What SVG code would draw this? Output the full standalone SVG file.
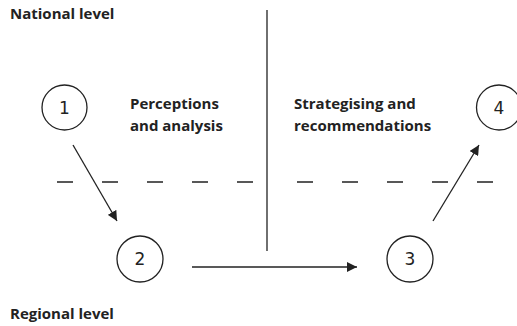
<svg xmlns="http://www.w3.org/2000/svg" width="517" height="326" viewBox="0 0 517 326">
<style>
.lbl{font-family:"Open Sans","Noto Sans",sans-serif;font-weight:bold;font-size:15px;fill:#222}
.num{font-family:"DejaVu Sans",sans-serif;font-size:17px;fill:#222;text-anchor:middle}
.c{fill:#fff;stroke:#222;stroke-width:1.3}
.ln{stroke:#222;stroke-width:1.3;fill:none}
.dash{stroke:#222;stroke-width:1.3;stroke-dasharray:16 29;fill:none}
</style>
<defs>
<marker id="ah" viewBox="0 0 10 10" refX="10" refY="5" markerWidth="10" markerHeight="10" markerUnits="userSpaceOnUse" orient="auto">
<path d="M0,0 L10,5 L0,10 z" fill="#222"/>
</marker>
</defs>
<rect width="517" height="326" fill="#fff"/>
<g id="labels">
<text class="lbl" x="10" y="19">National level</text>
<text class="lbl" x="10" y="319">Regional level</text>
<text class="lbl" x="130" y="109">Perceptions</text>
<text class="lbl" x="130" y="131">and analysis</text>
<text class="lbl" x="294" y="109">Strategising and</text>
<text class="lbl" x="294" y="131">recommendations</text>
</g>
<g id="dividers">
<line class="ln" x1="267" y1="10" x2="267" y2="251"/>
<line class="dash" x1="57" y1="182" x2="253" y2="182"/>
<line class="dash" x1="297" y1="182" x2="494" y2="182"/>
</g>
<g id="node1"><circle class="c" cx="64.5" cy="107.5" r="22.5"/><text class="num" x="64.5" y="113.5">1</text></g>
<g id="node2"><circle class="c" cx="140" cy="259" r="23"/><text class="num" x="140" y="265">2</text></g>
<g id="node3"><circle class="c" cx="410" cy="259" r="23"/><text class="num" x="410" y="265">3</text></g>
<g id="node4"><circle class="c" cx="499" cy="107.5" r="22.5"/><text class="num" x="499" y="113.5">4</text></g>
<g id="connectors">
<line class="ln" x1="73" y1="145" x2="117" y2="221" marker-end="url(#ah)"/>
<line class="ln" x1="192" y1="267" x2="357" y2="267" marker-end="url(#ah)"/>
<line class="ln" x1="433" y1="221" x2="479" y2="145" marker-end="url(#ah)"/>
</g>
</svg>
